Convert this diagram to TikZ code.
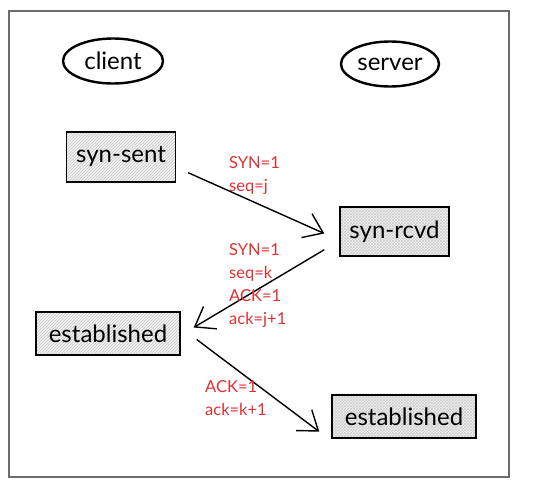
\documentclass[tikz,border=0pt]{standalone}
\usepackage{fontspec}
\setmainfont{Lato}
\usetikzlibrary{arrows.meta,patterns,shapes.geometric}
\definecolor{sketchred}{HTML}{E03131}
\definecolor{framegray}{HTML}{6B6B6B}
\tikzset{
  actor/.style={ellipse, draw=black, line width=2.4pt, inner sep=0pt, font=\fontsize{24}{26}\selectfont},
  statebox/.style={rectangle, draw=black, line width=1.4pt, inner sep=0pt, font=\fontsize{24}{26}\selectfont,
    preaction={fill=gray!10}},
  hatchleft/.style={pattern=north east lines, pattern color=gray!45},
  hatchright/.style={pattern=crosshatch, pattern color=gray!40},
  msg/.style={text=sketchred, align=left, inner sep=0pt, anchor=west, font=\fontsize{16.5}{23}\selectfont},
  flow/.style={draw=black, line width=1.4pt, -{Straight Barb[length=18pt,width=26pt,line width=1.4pt]}},
}
\begin{document}
\begin{tikzpicture}[x=1pt,y=-1pt]
\useasboundingbox (0,0) rectangle (537,487);
\draw[framegray, line width=1.4pt] (9,11) rectangle (509,477);

\node[actor, minimum width=100pt, minimum height=45pt] (client) at (113,61) {client};
\node[actor, minimum width=98pt, minimum height=45pt] (server) at (390,64) {server};

\node[statebox, hatchleft, minimum width=109pt, minimum height=50pt] (ss) at (121,157) {syn-sent};
\node[statebox, hatchright, minimum width=109pt, minimum height=49pt] (sr) at (394.5,231.5) {syn-rcvd};
\node[statebox, hatchleft, minimum width=144pt, minimum height=43pt] (el) at (108,333.5) {established};
\node[statebox, hatchright, minimum width=144pt, minimum height=43pt] (er) at (404,416.5) {established};

\draw[flow] ([shift={(12,-10)}]ss.south east) -- ([shift={(-15,2)}]sr.west);
\draw[flow] ([shift={(-15,-7)}]sr.south west) -- ([shift={(13,-6)}]el.east);
\draw[flow] ([shift={(16,6)}]el.east) -- ([shift={(-12,-7)}]er.south west);

\node[msg] (m1) at (229,175.5) {SYN=1\\seq=j};
\node[msg] (m2) at (229,285.5) {SYN=1\\seq=k\\ACK=1\\ack=j+1};
\node[msg] (m3) at (205,398.5) {ACK=1\\ack=k+1};
\end{tikzpicture}
\end{document}
